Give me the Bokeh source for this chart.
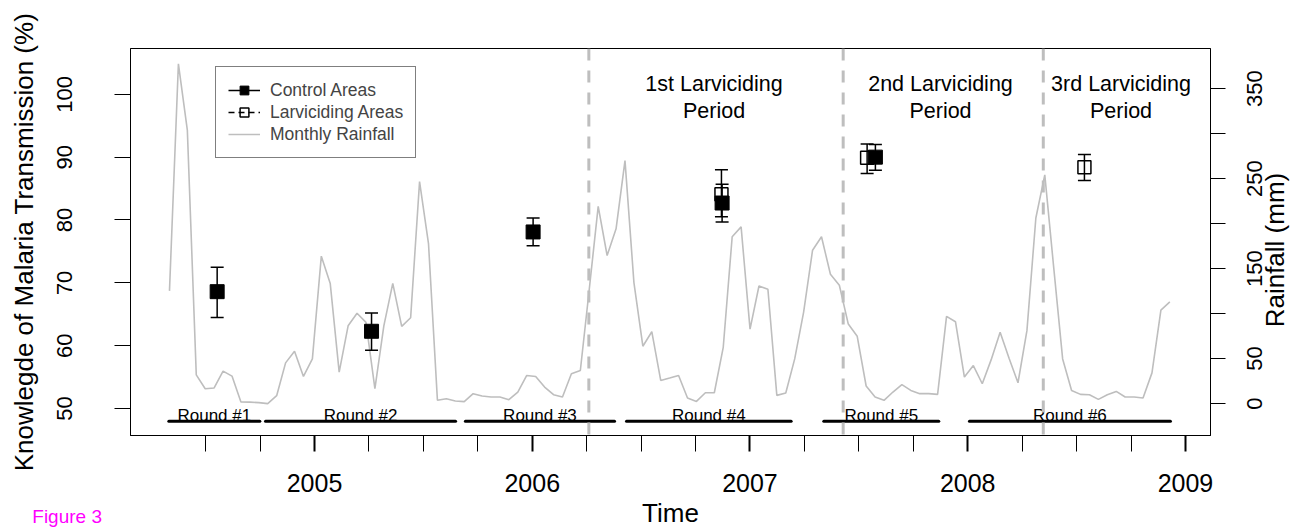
import math
import numpy as np
from bokeh.plotting import figure
from bokeh.models import (Range1d, LinearAxis, FixedTicker, Span, Legend,
                          LegendItem)
from bokeh.core.properties import value
from bokeh.embed import file_html
from bokeh.resources import INLINE

# ---------------- data ----------------
rain_start = 2004.334
rain_step = 0.04102
rainfall_mm = [125.3, 377.6, 303.9, 32.0, 16.6, 17.4, 36.1, 30.6, 1.9, 1.7,
               1.1, 0.0, 8.8, 45.3, 58.2, 30.2, 49.7, 163.9, 133.4, 35.1,
               86.5, 100.5, 90.3, 16.6, 86.5, 133.7, 85.9, 95.4, 246.7, 177.9,
               3.7, 5.5, 2.9, 2.2, 11.1, 8.5, 7.4, 7.4, 4.4, 12.9,
               31.3, 30.2, 18.4, 9.9, 7.4, 33.2, 36.8, 127.1, 219.2, 164.6,
               194.2, 270.0, 134.5, 63.8, 79.9, 25.8, 28.4, 31.3, 6.3, 2.5,
               12.1, 12.1, 62.6, 185.4, 196.4, 82.8, 130.7, 127.1, 9.2, 11.8,
               49.7, 101.7, 170.5, 185.4, 143.7, 131.5, 88.4, 74.8, 19.6, 7.4,
               3.7, 12.9, 21.1, 14.7, 11.1, 11.1, 10.3, 97.0, 91.0, 29.5,
               42.3, 22.1, 48.9, 79.3, 50.5, 23.2, 81.1, 206.3, 254.2, 151.1,
               49.7, 14.7, 10.3, 9.9, 4.7, 9.9, 13.6, 7.4, 7.4, 6.3,
               34.2, 103.9, 113.1]
rain_time = rain_start + np.arange(len(rainfall_mm)) * rain_step

ctrl_time = [2004.553, 2005.262, 2006.004, 2006.872, 2007.576]
ctrl_pct = [68.6, 62.3, 78.1, 82.7, 90.0]
ctrl_lo = [64.5, 59.3, 75.9, 79.7, 87.9]
ctrl_hi = [72.5, 65.2, 80.3, 85.7, 92.0]

larv_time = [2006.869, 2007.538, 2008.536]
larv_pct = [84.1, 89.9, 88.4]
larv_lo = [80.5, 87.4, 86.3]
larv_hi = [88.0, 92.1, 90.4]

round_names = ["Round #1", "Round #2", "Round #3", "Round #4", "Round #5", "Round #6"]
round_start = [2004.331, 2004.775, 2005.693, 2006.433, 2007.339, 2008.008]
round_end = [2004.749, 2005.648, 2006.378, 2007.189, 2007.867, 2008.931]
round_level = 48.0
round_label_y = 48.94

period_start = [2006.260, 2007.428, 2008.347]
period_names = ["1st Larviciding\nPeriod", "2nd Larviciding\nPeriod", "3rd Larviciding\nPeriod"]
period_label_x = [2006.835, 2007.875, 2008.704]
period_label_y = 99.5

year_ticks = [2005, 2006, 2007, 2008, 2009]
quarter_ticks = [2004.5, 2004.75, 2005.25, 2005.5, 2005.75, 2006.25, 2006.5, 2006.75,
                 2007.25, 2007.5, 2007.75, 2008.25, 2008.5, 2008.75]
pct_ticks = [50, 60, 70, 80, 90, 100]
rain_ticks = [0, 50, 100, 150, 200, 250, 300, 350]
rain_labelled = [0, 50, 150, 250, 350]

FONT = "Liberation Sans"
X_RANGE = (2004.155, 2009.115)
Y_RANGE = (45.72, 107.28)
RAIN_RANGE = (-35.4, 394.6)
FRAME_H = 389  # pixels of plot area height (530 - 48 - 93)
ARIAL_DIGIT = 0.556  # advance of a digit, in em

# ---------------- figure ----------------
p = figure(width=1308, height=530,
           x_range=Range1d(*X_RANGE), y_range=Range1d(*Y_RANGE),
           output_backend="svg", toolbar_location=None,
           min_border_left=130, min_border_right=98,
           min_border_top=48, min_border_bottom=93,
           background_fill_color="white", border_fill_color="white",
           outline_line_color="black", outline_line_width=1)
p.extra_y_ranges = {"rain": Range1d(*RAIN_RANGE)}
p.xgrid.visible = False
p.ygrid.visible = False

# rainfall
rain_line = p.line(rain_time, rainfall_mm, y_range_name="rain",
                   line_color="#BEBEBE", line_width=1.6)

# period separators
for t in period_start:
    p.add_layout(Span(location=t, dimension="height", line_color="#BEBEBE",
                      line_width=3, line_dash="12 10"))

# period labels
p.text(x=period_label_x, y=[period_label_y] * len(period_names), text=period_names,
       text_font=value(FONT), text_font_size="21.5px", text_align="center",
       text_baseline="middle", text_line_height=1.13, text_color="black")

# round bars
mids = [(a + b) / 2 for a, b in zip(round_start, round_end)]
p.segment(x0=round_start, y0=[round_level] * 6, x1=round_end, y1=[round_level] * 6,
          line_color="black", line_width=3, line_cap="round")
p.text(x=mids, y=[round_label_y] * 6, text=round_names, text_font=value(FONT),
       text_font_size="17px", text_align="center", text_baseline="alphabetic",
       text_color="black")

# error bars
p.segment(x0=ctrl_time, y0=ctrl_lo, x1=ctrl_time, y1=ctrl_hi, line_color="black", line_width=1.5)
p.scatter(ctrl_time, ctrl_lo, marker="dash", size=13, line_color="black", line_width=1.5)
p.scatter(ctrl_time, ctrl_hi, marker="dash", size=13, line_color="black", line_width=1.5)
ctrl_sq = p.scatter(ctrl_time, ctrl_pct, marker="square", size=14,
                    fill_color="black", line_color="black")

p.segment(x0=larv_time, y0=larv_lo, x1=larv_time, y1=larv_hi, line_color="black", line_width=1.5)
p.scatter(larv_time, larv_lo, marker="dash", size=13, line_color="black", line_width=1.5)
p.scatter(larv_time, larv_hi, marker="dash", size=13, line_color="black", line_width=1.5)
larv_sq = p.scatter(larv_time, larv_pct, marker="square", size=13,
                    fill_alpha=0, line_color="black", line_width=1.5)

# legend helper lines (not visible in plot)
nan = float("nan")
ctrl_leg_line = p.line([nan], [nan], line_color="black", line_width=1.5)
larv_leg_line = p.line([nan], [nan], line_color="black", line_width=1.5, line_dash="6 4")

legend = Legend(items=[
    LegendItem(label="Control Areas", renderers=[ctrl_leg_line, ctrl_sq]),
    LegendItem(label="Larviciding Areas", renderers=[larv_leg_line, larv_sq]),
    LegendItem(label="Monthly Rainfall", renderers=[rain_line]),
], location=(85, 277), glyph_width=32, glyph_height=22, label_height=22,
    label_standoff=10, padding=12, spacing=0, margin=0,
    label_text_font=FONT, label_text_font_size="17.5px",
    border_line_color="black", border_line_width=1,
    background_fill_color="white", background_fill_alpha=1)
p.add_layout(legend)

# ---------------- axes ----------------
xa = p.xaxis[0]
xa.ticker = FixedTicker(ticks=year_ticks, minor_ticks=quarter_ticks)
xa.axis_label = "Time"
xa.axis_label_text_font = FONT
xa.axis_label_text_font_size = "26px"
xa.axis_label_text_font_style = "normal"
xa.axis_label_standoff = 3
xa.major_label_text_font = FONT
xa.major_label_text_font_size = "25px"
xa.major_label_standoff = 22
xa.major_tick_out = 16
xa.major_tick_in = 0
xa.major_tick_line_width = 2
xa.minor_tick_out = 16
xa.minor_tick_in = 0
xa.minor_tick_line_width = 1
xa.axis_line_color = "black"
xa.major_label_text_color = "black"
xa.axis_label_text_color = "black"

ya = p.yaxis[0]
ya.ticker = FixedTicker(ticks=pct_ticks)
ya.axis_label = "Knowlegde of Malaria Transmission (%)"
ya.axis_label_text_font = FONT
ya.axis_label_text_font_size = "26px"
ya.axis_label_text_font_style = "normal"
ya.axis_label_standoff = 16
ya.major_label_orientation = "vertical"
ya.major_label_text_font = FONT
ya.major_label_text_font_size = "22px"
ya.major_label_standoff = 42
ya.major_tick_out = 16
ya.major_tick_in = 0
ya.minor_tick_line_color = None
ya.axis_line_color = "black"
ya.major_label_text_color = "black"
ya.axis_label_text_color = "black"

# right axis: tick marks at the rainfall values (minor ticks); labels read bottom-to-top
# and start at their anchor, so each anchor sits half a label length below its value.
px_per_mm = FRAME_H / (RAIN_RANGE[1] - RAIN_RANGE[0])
rain_label_pos = [v - len(str(v)) * ARIAL_DIGIT * 22 / 2 / px_per_mm for v in rain_labelled]
ra = LinearAxis(y_range_name="rain",
                ticker=FixedTicker(ticks=rain_label_pos, minor_ticks=rain_ticks),
                major_label_overrides={pos: str(v) for pos, v in zip(rain_label_pos, rain_labelled)})
ra.major_label_orientation = math.pi / 2
ra.major_label_text_font = FONT
ra.major_label_text_font_size = "22px"
ra.major_label_text_color = "black"
ra.major_label_standoff = 29
ra.major_tick_out = 15
ra.major_tick_in = 0
ra.major_tick_line_color = None
ra.minor_tick_out = 15
ra.minor_tick_in = 0
ra.minor_tick_line_color = "black"
ra.minor_tick_line_width = 1
ra.axis_line_color = "black"
p.add_layout(ra, "right")

# right axis title, bottom-to-top, centred slightly below the middle of the plot area
rain_title = "Rainfall (mm)"
rain_title_center_mm = 170.2
rain_title_half_mm = 5.944 * 26 / 2 / px_per_mm
rain_title_pos = rain_title_center_mm - rain_title_half_mm
rt = LinearAxis(y_range_name="rain", ticker=FixedTicker(ticks=[rain_title_pos]),
                major_label_overrides={rain_title_pos: rain_title})
rt.major_label_orientation = math.pi / 2
rt.major_label_text_font = FONT
rt.major_label_text_font_size = "26px"
rt.major_label_text_color = "black"
rt.major_label_standoff = 3
rt.major_tick_out = 0
rt.major_tick_in = 0
rt.major_tick_line_color = None
rt.minor_tick_line_color = None
rt.axis_line_color = None
p.add_layout(rt, "right")

# caption "Figure 3" at the bottom-left corner: a tick-less bottom axis whose title is
# anchored at the plot's left edge; trailing no-break spaces move the visible words left.
cap_text = "Figure 3"
cap_pad = "\u00a0" * 24
cap = LinearAxis(ticker=FixedTicker(ticks=[]))
cap.axis_label = cap_text + cap_pad
cap.axis_label_text_font = FONT
cap.axis_label_text_font_size = "19px"
cap.axis_label_text_font_style = "normal"
cap.axis_label_text_color = "#FF00FF"
cap.axis_label_standoff = -25
cap.axis_label_align = "start"
cap.axis_line_color = None
cap.major_tick_line_color = None
cap.minor_tick_line_color = None
cap.major_tick_out = 0
cap.minor_tick_out = 0
cap.major_label_standoff = 0
p.add_layout(cap, "below")

open("out.html", "w").write(file_html(p, INLINE))
